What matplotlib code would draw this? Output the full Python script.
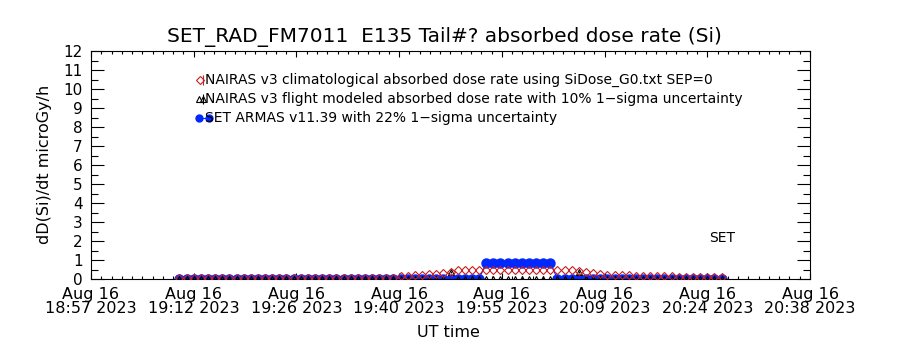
import datetime as dt
import numpy as np
import matplotlib
matplotlib.use('Agg')
import matplotlib.pyplot as plt
import matplotlib.dates as mdates
from matplotlib.ticker import MultipleLocator, AutoMinorLocator, FuncFormatter

# one-minute samples starting at 19:10 UT
t0 = dt.datetime(2023, 8, 16, 19, 10)
n_samples = 77
times = [t0 + dt.timedelta(minutes=k) for k in range(n_samples)]

# NAIRAS v3 climatological absorbed dose rate (microGy/h)
nairas_clim = ([0.03] * 31 +
               [0.15, 0.18, 0.20, 0.22, 0.24, 0.28, 0.33, 0.38, 0.45] +
               [0.50] * 16 +
               [0.42, 0.35, 0.30, 0.25, 0.22, 0.20, 0.20, 0.19] +
               [0.18, 0.18, 0.17, 0.16, 0.15, 0.14, 0.13, 0.12, 0.11, 0.10, 0.10, 0.10, 0.10])

# NAIRAS v3 flight modeled absorbed dose rate
nairas_flight = [0.0] * 38 + [0.38] + [0.0] * 17 + [0.38] + [0.0] * 20

# SET ARMAS measured dose rate
armas = [0.0] * 43 + [0.83] * 10 + [0.0] * 24

x_start = dt.datetime(2023, 8, 16, 18, 57, 36)
x_end = dt.datetime(2023, 8, 16, 20, 38, 24)
n_xticks = 8

red = '#c81e1e'
blue = '#0028ff'

fig = plt.figure(figsize=(9, 3.5), dpi=100)
ax = fig.add_axes([91 / 900, 1 - 279 / 350, 719 / 900, 228 / 350])

ax.plot(times, armas, '-', color=blue, lw=0.8, marker='o', ms=6.5, mfc=blue, mec=blue, zorder=2)
ax.errorbar(times, nairas_flight, yerr=0.1 * np.array(nairas_flight), fmt='^', color='k',
            ms=4, mfc='none', mew=0.8, elinewidth=0.8, capsize=0, zorder=3)
ax.plot(times, nairas_clim, 'D', color=red, ms=3.8, mfc='none', mew=0.8, zorder=4)

ax.set_ylim(0, 12)
ax.set_xlim(x_start, x_end)
ax.yaxis.set_major_locator(MultipleLocator(1))
ax.yaxis.set_minor_locator(MultipleLocator(0.5))

span = (x_end - x_start) / (n_xticks - 1)
xticks = [x_start + span * k for k in range(n_xticks)]
ax.set_xticks(xticks)
ax.xaxis.set_minor_locator(AutoMinorLocator(10))
ax.xaxis.set_major_formatter(FuncFormatter(
    lambda v, pos: mdates.num2date(v).strftime('%b %d\n%H:%M %Y')))

ax.tick_params(axis='y', which='major', direction='in', length=9.5, width=0.8,
               left=True, right=True, labelsize=11, pad=6)
ax.tick_params(axis='y', which='minor', direction='in', length=5, width=0.8,
               left=True, right=True)
ax.tick_params(axis='x', which='major', direction='in', length=4.5, width=0.8,
               top=True, bottom=True, labelsize=11.5, pad=6)
ax.tick_params(axis='x', which='minor', direction='in', length=2.5, width=0.8,
               top=True, bottom=True)
for lab in ax.get_xticklabels():
    lab.set_linespacing(0.85)
for s in ax.spines.values():
    s.set_linewidth(0.8)

# legend drawn as marker + text rows
rows = [
    (0.873, 'NAIRAS v3 climatological absorbed dose rate using SiDose_G0.txt SEP=0'),
    (0.789, 'NAIRAS v3 flight modeled absorbed dose rate with 10% 1\u2212sigma uncertainty'),
    (0.706, 'SET ARMAS v11.39 with 22% 1\u2212sigma uncertainty'),
]
ax.plot([0.1516], [rows[0][0]], 'D', color=red, ms=3.8, mfc='none', mew=0.8,
        transform=ax.transAxes, clip_on=False)
ax.plot([0.1560], [rows[0][0]], '|', color=red, ms=7, mew=0.8,
        transform=ax.transAxes, clip_on=False)
ax.plot([0.1500, 0.1555], [rows[1][0]] * 2, '^', color='k', ms=4, mfc='none', mew=0.8,
        transform=ax.transAxes, clip_on=False)
ax.plot([0.1560], [rows[1][0]], '|', color='k', ms=7, mew=0.8,
        transform=ax.transAxes, clip_on=False)
ax.plot([0.1500, 0.1640], [rows[2][0]] * 2, '-', color=blue, lw=0.8, marker='o', ms=5,
        mfc=blue, mec=blue, transform=ax.transAxes, clip_on=False)
for y, txt in rows:
    ax.text(0.1586, y, txt, transform=ax.transAxes, fontsize=10, va='center', ha='left')

ax.text(0.878, 0.18, 'SET', transform=ax.transAxes, fontsize=10, va='center', ha='center')

fig.text(0.494, 0.894, 'SET_RAD_FM7011  E135 Tail#? absorbed dose rate (Si)',
         fontsize=14.5, ha='center', va='center')
fig.text(0.498, 0.049, 'UT time', fontsize=11.5, ha='center', va='center')
fig.text(0.05, 0.529, 'dD(Si)/dt microGy/h', fontsize=11.5, rotation=90,
         ha='center', va='center')

fig.savefig('out.png', dpi=100)
